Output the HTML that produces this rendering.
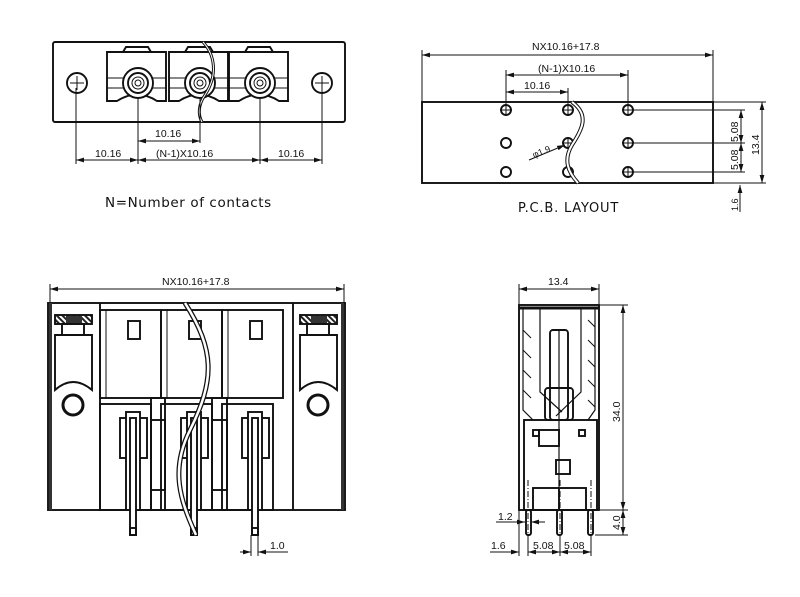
<!DOCTYPE html>
<html><head><meta charset="utf-8"><style>
html,body{margin:0;padding:0;background:#fff}
svg{display:block}
text{font-family:"Liberation Sans",sans-serif;fill:#111}
</style></head><body>
<svg width="800" height="597" viewBox="0 0 800 597" xmlns="http://www.w3.org/2000/svg">
<defs>
<marker id="a" viewBox="0 0 10 6" refX="10" refY="3" markerWidth="8" markerHeight="5" orient="auto-start-reverse"><path d="M0,0L10,3L0,6z" fill="#111"/></marker>
<pattern id="h" width="4" height="4" patternUnits="userSpaceOnUse" patternTransform="rotate(-45)"><rect width="4" height="4" fill="#fff"/><rect width="2" height="4" fill="#222"/></pattern>
</defs>
<g fill="none" stroke="#111" stroke-width="1.9">
<!-- TOP LEFT VIEW -->
<rect x="53" y="42" width="292" height="80" rx="2"/>
<circle cx="77" cy="83" r="10"/><line x1="70" y1="83" x2="84" y2="83" stroke-width="1"/><line x1="77" y1="76" x2="77" y2="90" stroke-width="1"/>
<circle cx="322" cy="83" r="10"/><line x1="315" y1="83" x2="329" y2="83" stroke-width="1"/><line x1="322" y1="76" x2="322" y2="90" stroke-width="1"/>
<g id="c1">
<path d="M107,52 H166 V101 H157 Q137,88 117,101 H107 Z"/>
<path d="M123,52 L126,47 H148 L151,52"/>
<line x1="107" y1="78" x2="166" y2="78" stroke-width="1"/><line x1="107" y1="88" x2="166" y2="88" stroke-width="1"/>
<circle cx="138" cy="83" r="15" fill="#fff"/><circle cx="138" cy="83" r="10"/><circle cx="138" cy="83" r="6" stroke-width="1"/><circle cx="138" cy="83" r="3" stroke-width="1"/>
</g>
<use href="#c1" x="62"/><use href="#c1" x="122"/>
<path d="M203,42 C215,55 218,75 205,95 C198,105 198,115 202,122" stroke-width="3"/>
<path d="M203,42 C215,55 218,75 205,95 C198,105 198,115 202,122" stroke="#fff" stroke-width="1"/>
<g stroke-width="1">
<line x1="76" y1="88" x2="76" y2="164"/><line x1="138" y1="98" x2="138" y2="164"/><line x1="200" y1="98" x2="200" y2="143"/><line x1="260" y1="98" x2="260" y2="164"/><line x1="322" y1="88" x2="322" y2="164"/>
<line x1="138" y1="141" x2="200" y2="141" marker-start="url(#a)" marker-end="url(#a)"/>
<line x1="76" y1="160" x2="138" y2="160" marker-start="url(#a)" marker-end="url(#a)"/>
<line x1="138" y1="160" x2="260" y2="160" marker-start="url(#a)" marker-end="url(#a)"/>
<line x1="260" y1="160" x2="322" y2="160" marker-start="url(#a)" marker-end="url(#a)"/>
</g>
<!-- PCB LAYOUT -->
<rect x="422" y="102" width="291" height="81"/>
<g stroke-width="1">
<line x1="422" y1="50" x2="422" y2="102"/><line x1="713" y1="50" x2="713" y2="102"/>
<line x1="422" y1="55" x2="713" y2="55" marker-start="url(#a)" marker-end="url(#a)"/>
<line x1="506" y1="70" x2="506" y2="110"/><line x1="628" y1="70" x2="628" y2="110"/><line x1="568" y1="88" x2="568" y2="110"/>
<line x1="506" y1="75" x2="628" y2="75" marker-start="url(#a)" marker-end="url(#a)"/>
<line x1="506" y1="92" x2="568" y2="92" marker-start="url(#a)" marker-end="url(#a)"/>
<line x1="628" y1="110" x2="745" y2="110"/><line x1="628" y1="143" x2="745" y2="143"/><line x1="628" y1="172" x2="745" y2="172"/>
<line x1="713" y1="102" x2="766" y2="102"/><line x1="713" y1="183" x2="766" y2="183"/>
<line x1="741" y1="110" x2="741" y2="143" marker-start="url(#a)" marker-end="url(#a)"/>
<line x1="741" y1="143" x2="741" y2="172" marker-start="url(#a)" marker-end="url(#a)"/>
<line x1="762" y1="102" x2="762" y2="183" marker-start="url(#a)" marker-end="url(#a)"/>
<line x1="740" y1="212" x2="740" y2="185" marker-end="url(#a)"/>
<line x1="529" y1="160" x2="565" y2="145" marker-end="url(#a)"/>
</g>
<g id="ph"><circle cx="506" cy="110" r="5"/><line x1="500" y1="110" x2="512" y2="110" stroke-width="1"/><line x1="506" y1="104" x2="506" y2="116" stroke-width="1"/></g>
<use href="#ph" x="62"/><use href="#ph" x="122"/><use href="#ph" x="62" y="33"/><use href="#ph" x="122" y="33"/><use href="#ph" x="122" y="62"/>
<circle cx="506" cy="143" r="5"/><circle cx="506" cy="172" r="5"/><circle cx="568" cy="172" r="5"/>
<path d="M572,102 C590,115 582,130 572,145 C563,160 568,172 578,183" stroke-width="4"/>
<path d="M572,102 C590,115 582,130 572,145 C563,160 568,172 578,183" stroke="#fff" stroke-width="2"/>
<!-- FRONT VIEW -->
<g stroke-width="1"><line x1="50" y1="284" x2="50" y2="303"/><line x1="344" y1="284" x2="344" y2="303"/>
<line x1="50" y1="289" x2="344" y2="289" marker-start="url(#a)" marker-end="url(#a)"/></g>
<rect x="48" y="303" width="297" height="207"/>
<rect x="49" y="303" width="3" height="207" fill="#333" stroke="none"/><rect x="341" y="303" width="3" height="207" fill="#333" stroke="none"/>
<line x1="100" y1="303" x2="100" y2="510"/><line x1="293" y1="303" x2="293" y2="510"/>
<rect x="55" y="315" width="37" height="9" fill="url(#h)"/><rect x="66" y="316" width="16" height="7" fill="#333" stroke="none"/>
<rect x="62" y="324" width="22" height="11"/>
<path d="M55,335 H92 V390 Q73,374 55,390 Z"/>
<circle cx="73" cy="405" r="10" stroke-width="3"/>
<rect x="300" y="315" width="37" height="9" fill="url(#h)"/><rect x="311" y="316" width="16" height="7" fill="#333" stroke="none"/>
<rect x="307" y="324" width="22" height="11"/>
<path d="M300,335 H337 V390 Q318,374 300,390 Z"/>
<circle cx="318" cy="405" r="10" stroke-width="3"/>
<g id="fc">
<rect x="100" y="310" width="61" height="88"/><line x1="106" y1="310" x2="106" y2="398" stroke-width="1"/>
<rect x="128" y="321" width="12" height="18"/>
<rect x="100" y="404" width="51" height="106"/>
<rect x="120" y="418" width="27" height="40"/><rect x="126" y="412" width="14" height="98" fill="#fff"/><rect x="130" y="418" width="6" height="117" fill="#fff"/><rect x="130" y="528" width="6" height="7"/>
</g>
<use href="#fc" x="61"/><use href="#fc" x="122"/>
<rect x="151" y="398" width="14" height="112"/><rect x="151" y="420" width="14" height="70"/>
<rect x="212" y="398" width="15" height="112"/><rect x="212" y="420" width="15" height="70"/>
<path d="M185,303 C215,350 215,380 190,430 C170,470 180,500 196,535" stroke-width="5"/>
<path d="M185,303 C215,350 215,380 190,430 C170,470 180,500 196,535" stroke="#fff" stroke-width="2.5"/>
<g stroke-width="1"><line x1="251" y1="535" x2="251" y2="556"/><line x1="258" y1="535" x2="258" y2="556"/>
<line x1="240" y1="552" x2="251" y2="552" marker-end="url(#a)"/><line x1="288" y1="552" x2="258" y2="552" marker-end="url(#a)"/></g>
<!-- SIDE VIEW -->
<g stroke-width="1"><line x1="519" y1="284" x2="519" y2="305"/><line x1="599" y1="284" x2="599" y2="305"/>
<line x1="519" y1="289" x2="599" y2="289" marker-start="url(#a)" marker-end="url(#a)"/>
<line x1="600" y1="305" x2="628" y2="305"/><line x1="600" y1="510" x2="628" y2="510"/><line x1="595" y1="535" x2="628" y2="535"/>
<line x1="623" y1="305" x2="623" y2="510" marker-start="url(#a)" marker-end="url(#a)"/>
<line x1="623" y1="510" x2="623" y2="535" marker-start="url(#a)" marker-end="url(#a)"/>
<line x1="519" y1="510" x2="519" y2="556"/><line x1="528" y1="535" x2="528" y2="556"/><line x1="560" y1="535" x2="560" y2="556"/><line x1="591" y1="535" x2="591" y2="556"/>
<line x1="490" y1="552" x2="519" y2="552" marker-end="url(#a)"/>
<line x1="528" y1="552" x2="560" y2="552" marker-start="url(#a)" marker-end="url(#a)"/>
<line x1="560" y1="552" x2="591" y2="552" marker-start="url(#a)" marker-end="url(#a)"/>
<line x1="496" y1="522" x2="525" y2="522" marker-end="url(#a)"/><line x1="545" y1="522" x2="531" y2="522" marker-end="url(#a)"/>
<line x1="528" y1="480" x2="528" y2="540" stroke-dasharray="6,2,1,2"/><line x1="560" y1="480" x2="560" y2="540" stroke-dasharray="6,2,1,2"/><line x1="591" y1="480" x2="591" y2="540" stroke-dasharray="6,2,1,2"/>
</g>
<rect x="519" y="305" width="80" height="205"/>
<line x1="519" y1="308" x2="599" y2="308" stroke-width="3"/>
<path d="M523,308 V410 L533,420 M540,308 V392 L562,412 M581,308 V392 L556,416 M595,308 V410 L588,420" stroke-width="1.2"/>
<path d="M523,330 L531,338 M523,350 L531,358 M523,370 L531,378 M523,390 L531,398 M588,320 L595,327 M588,340 L595,347 M588,360 L595,367 M588,380 L595,387 M588,400 L595,407" stroke-width="1"/>
<rect x="550" y="330" width="18" height="90" rx="3"/><line x1="559" y1="330" x2="559" y2="510" stroke-width="1.2"/>
<rect x="545" y="388" width="28" height="32" rx="3"/>
<rect x="524" y="420" width="73" height="90"/>
<rect x="533" y="430" width="6" height="6"/><rect x="579" y="430" width="6" height="6"/>
<rect x="539" y="430" width="20" height="16"/><rect x="556" y="460" width="14" height="14"/>
<rect x="533" y="488" width="53" height="22"/><line x1="559" y1="488" x2="559" y2="510"/>
<rect x="526" y="510" width="5" height="25" rx="2"/><rect x="557" y="510" width="5" height="25" rx="2"/><rect x="588" y="510" width="5" height="25" rx="2"/>
</g>
<g font-size="10.5">
<text x="155" y="137">10.16</text>
<text x="95" y="157">10.16</text>
<text x="156" y="157">(N-1)X10.16</text>
<text x="278" y="157">10.16</text>
<text x="105" y="207" font-size="13.5" letter-spacing="0.6" style="font-family:'DejaVu Sans',sans-serif">N=Number of contacts</text>
<text x="532" y="50">NX10.16+17.8</text>
<text x="538" y="72">(N-1)X10.16</text>
<text x="524" y="89">10.16</text>
<text x="518" y="212" font-size="13" letter-spacing="0.8" style="font-family:'DejaVu Sans',sans-serif">P.C.B. LAYOUT</text>
<text transform="translate(534,158) rotate(-22)" font-size="9">φ1.9</text>
<text transform="translate(738,142) rotate(-90)">5.08</text>
<text transform="translate(738,170) rotate(-90)">5.08</text>
<text transform="translate(759,155) rotate(-90)">13.4</text>
<text transform="translate(738,211) rotate(-90)" font-size="9">1.6</text>
<text x="162" y="285">NX10.16+17.8</text>
<text x="270" y="549">1.0</text>
<text x="548" y="285">13.4</text>
<text transform="translate(620,422) rotate(-90)">34.0</text>
<text transform="translate(620,530) rotate(-90)">4.0</text>
<text x="498" y="520">1.2</text>
<text x="491" y="549">1.6</text>
<text x="533" y="549">5.08</text>
<text x="564" y="549">5.08</text>
</g>
</svg>
</body></html>
